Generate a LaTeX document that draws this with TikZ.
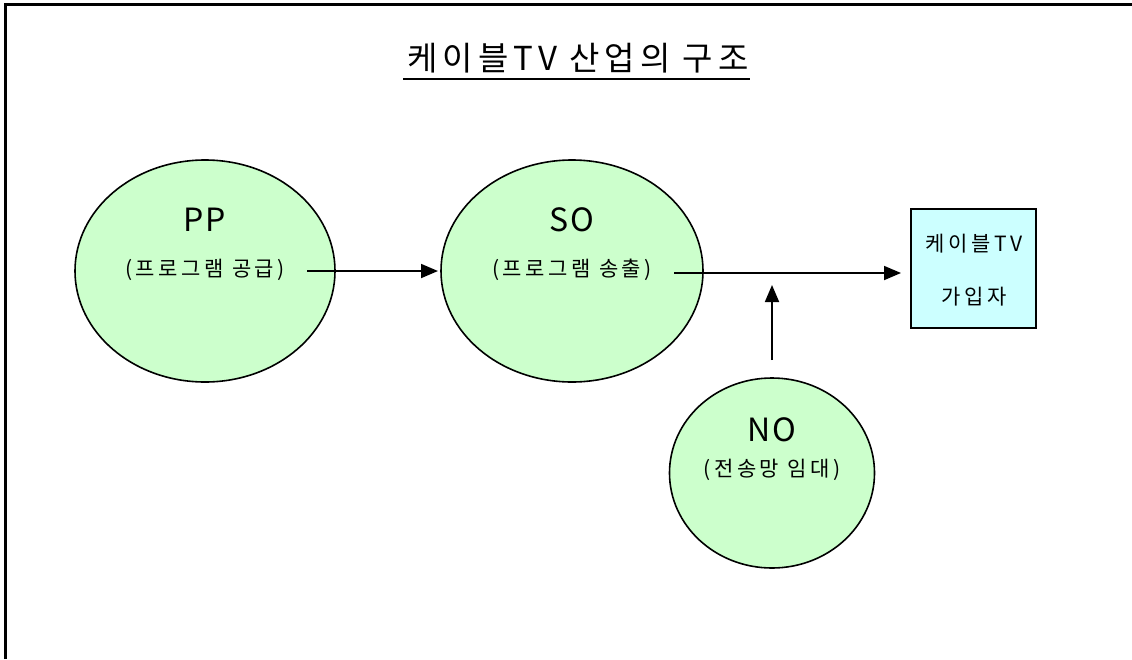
\documentclass[tikz,border=0pt]{standalone}
\usepackage{fontspec}
\setmainfont{Noto Sans CJK KR}[LetterSpace=6]
\newfontfamily\titlefont{Noto Sans CJK KR}[LetterSpace=15]
\newfontfamily\subfont{Noto Sans CJK KR}[LetterSpace=17]
\usetikzlibrary{arrows.meta,shapes.geometric}
\definecolor{nodegreen}{HTML}{CCFFCC}
\definecolor{boxcyan}{HTML}{CCFFFF}
\tikzset{
  ent/.style={ellipse, draw=black, line width=1.6pt, fill=nodegreen, inner sep=0pt},
  arr/.style={line width=1.8pt, -{Triangle[length=17pt,width=14pt]}},
  big/.style={font=\fontsize{32}{34}\selectfont},
  small/.style={font=\subfont\fontsize{21}{23}\selectfont},
}
\begin{document}
\begin{tikzpicture}[x=1pt,y=-1pt]
\useasboundingbox (0,0) rectangle (1132,659);
\fill[white] (0,0) rectangle (1132,659);
\draw[line width=3pt] (5.5,659) -- (5.5,4.5) -- (1132,4.5);
% title
\node[font=\titlefont\fontsize{33}{35}\selectfont] (title) at (578,58) {케이블TV 산업의 구조};
\draw[line width=2.2pt] (403,79) -- (750,79);
% ellipses
\node[ent, minimum width=260pt, minimum height=222pt] (pp) at (205,271) {};
\node[ent, minimum width=262pt, minimum height=222pt] (so) at (572,271) {};
\node[ent, minimum width=205pt, minimum height=190pt] (no) at (772,473) {};
\node[big] (pplab) at (205,220) {PP};
\node[small] (ppsub) at (205,270) {(프로그램 공급)};
\node[big] (solab) at (572,220) {SO};
\node[small] (sosub) at (572,270) {(프로그램 송출)};
\node[big] (nolab) at (772,430) {NO};
\node[small] (nosub) at (772,470) {(전송망 임대)};
% box
\node[draw=black, line width=1.6pt, fill=boxcyan, minimum width=125pt, minimum height=119pt, inner sep=0pt] (box) at (973.5,268.5) {};
\node[small] (boxa) at (974,244) {케이블TV};
\node[small] (boxb) at (974,297) {가입자};
% arrows
\coordinate (a1s) at (307,271);
\coordinate (a1e) at (438,271);
\coordinate (a2s) at (674,273);
\coordinate (a2e) at (901,273);
\coordinate (a3s) at (772,360);
\coordinate (a3e) at (772,285);
\draw[arr] (a1s) -- (a1e);
\draw[arr] (a2s) -- (a2e);
\draw[arr] (a3s) -- (a3e);
\end{tikzpicture}
\end{document}
